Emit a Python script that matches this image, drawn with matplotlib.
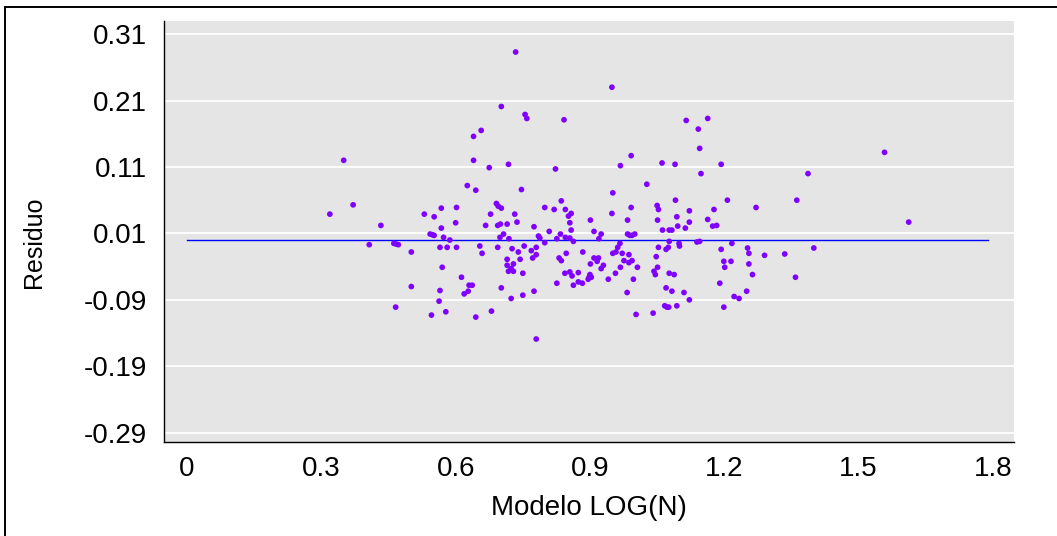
import matplotlib
matplotlib.use("Agg")
import matplotlib.pyplot as plt
from matplotlib.lines import Line2D

# Fitted values (Modelo LOG(N)) and residuals
modelo = [
    0.350, 0.626, 0.371, 0.319, 0.530, 0.552, 0.568, 0.602, 0.600, 0.433,
    0.568, 0.543, 0.548, 0.552, 0.573, 0.587, 0.407, 0.462, 0.467, 0.472,
    0.565, 0.581, 0.602, 0.501, 0.570, 0.613, 0.501, 0.630, 0.565, 0.619,
    0.628, 0.563, 0.466, 0.578, 0.546,
    0.734, 0.702, 0.755, 0.759, 0.842, 0.657, 0.640, 0.640, 0.675, 0.718,
    0.823, 0.645, 0.747, 0.691, 0.695, 0.702, 0.678, 0.732, 0.799, 0.820,
    0.836, 0.845, 0.858, 0.852, 0.737, 0.667, 0.694, 0.700, 0.715, 0.775,
    0.855, 0.858, 0.707, 0.699, 0.719, 0.785, 0.788, 0.809, 0.834, 0.826,
    0.845, 0.855, 0.863, 0.799, 0.654, 0.694, 0.726, 0.753, 0.780, 0.659,
    0.740, 0.769, 0.780, 0.847, 0.715, 0.744, 0.772, 0.831, 0.836, 0.729,
    0.715, 0.724, 0.729, 0.718, 0.750, 0.844, 0.855, 0.860, 0.874, 0.863,
    0.826, 0.637, 0.702, 0.775, 0.750, 0.724, 0.680, 0.645, 0.780,
    0.949, 1.115, 0.992, 0.968, 1.061, 1.090, 1.027, 0.951, 0.992, 1.050,
    1.053, 1.091, 0.949, 0.901, 0.984, 1.051, 1.094, 1.122, 0.909, 0.925,
    0.920, 0.984, 0.989, 0.994, 1.000, 1.062, 1.077, 1.083, 1.096, 1.113,
    1.122, 0.967, 0.962, 1.077, 1.099, 1.100, 0.884, 0.951, 0.958, 0.972,
    0.987, 1.053, 1.075, 1.070, 0.909, 0.919, 0.916, 0.976, 0.994, 0.987,
    1.048, 0.901, 0.930, 0.925, 0.968, 1.006, 1.051, 1.043, 1.046, 0.957,
    1.077, 1.088, 0.900, 0.898, 0.903, 0.896, 0.941, 0.997, 0.874, 0.883,
    1.070, 1.083, 0.983, 1.110, 1.122, 1.067, 1.072, 1.076, 1.094, 1.003,
    1.041,
    1.163, 1.142, 1.145, 1.193, 1.148, 1.207, 1.271, 1.362, 1.177, 1.163,
    1.174, 1.183, 1.139, 1.145, 1.217, 1.193, 1.252, 1.255, 1.290, 1.335,
    1.199, 1.215, 1.201, 1.255, 1.263, 1.359, 1.190, 1.250, 1.222, 1.233,
    1.199,
    1.558, 1.387, 1.612, 1.400,
]
residuo = [
    0.120, 0.082, 0.053, 0.039, 0.039, 0.035, 0.048, 0.049, 0.026, 0.022,
    0.018, 0.009, 0.008, 0.007, 0.004, 0.000, -0.007, -0.005, -0.006, -0.007,
    -0.011, -0.011, -0.011, -0.018, -0.041, -0.056, -0.070, -0.068, -0.076, -0.081,
    -0.077, -0.092, -0.101, -0.108, -0.113,
    0.283, 0.201, 0.189, 0.183, 0.181, 0.165, 0.156, 0.120, 0.109, 0.114,
    0.107, 0.075, 0.076, 0.055, 0.051, 0.048, 0.039, 0.039, 0.049, 0.046,
    0.059, 0.046, 0.040, 0.036, 0.027, 0.022, 0.022, 0.024, 0.024, 0.020,
    0.026, 0.015, 0.009, 0.004, 0.002, 0.006, 0.003, 0.013, 0.009, 0.002,
    0.004, 0.003, -0.002, -0.004, -0.009, -0.011, -0.013, -0.009, -0.011, -0.020,
    -0.018, -0.016, -0.022, -0.020, -0.029, -0.029, -0.027, -0.027, -0.031, -0.036,
    -0.038, -0.043, -0.047, -0.047, -0.050, -0.050, -0.048, -0.054, -0.049, -0.068,
    -0.065, -0.068, -0.072, -0.077, -0.083, -0.088, -0.107, -0.116, -0.149,
    0.230, 0.180, 0.127, 0.112, 0.116, 0.114, 0.084, 0.071, 0.049, 0.052,
    0.046, 0.060, 0.040, 0.030, 0.030, 0.030, 0.035, 0.044, 0.013, 0.009,
    0.002, 0.009, 0.007, 0.007, 0.009, 0.015, 0.015, 0.015, 0.021, 0.018,
    0.027, -0.005, -0.011, -0.002, -0.005, -0.009, -0.018, -0.020, -0.018, -0.020,
    -0.022, -0.011, -0.011, -0.014, -0.027, -0.027, -0.032, -0.031, -0.031, -0.034,
    -0.025, -0.036, -0.038, -0.043, -0.041, -0.041, -0.041, -0.047, -0.052, -0.050,
    -0.050, -0.052, -0.052, -0.056, -0.056, -0.059, -0.059, -0.059, -0.063, -0.065,
    -0.072, -0.077, -0.079, -0.079, -0.090, -0.099, -0.101, -0.101, -0.099, -0.112,
    -0.110,
    0.183, 0.167, 0.138, 0.114, 0.100, 0.060, 0.049, 0.060, 0.046, 0.031,
    0.021, 0.022, -0.003, -0.002, -0.005, -0.014, -0.012, -0.020, -0.023, -0.021,
    -0.032, -0.032, -0.041, -0.036, -0.052, -0.056, -0.065, -0.077, -0.085, -0.088,
    -0.101,
    0.132, 0.100, 0.027, -0.012,
]

# Zero reference line
ref_x = [0.0, 1.79]
ref_y = [0.0, 0.0]

xticks = [0, 0.3, 0.6, 0.9, 1.2, 1.5, 1.8]
xtick_labels = ["0", "0.3", "0.6", "0.9", "1.2", "1.5", "1.8"]
yticks = [0.31, 0.21, 0.11, 0.01, -0.09, -0.19, -0.29]
ytick_labels = ["0.31", "0.21", "0.11", "0.01", "-0.09", "-0.19", "-0.29"]

plt.rcParams["font.family"] = ["Liberation Sans", "DejaVu Sans"]

fig = plt.figure(figsize=(10.57, 5.36), dpi=100)
ax = fig.add_axes([164 / 1057, 1 - 442 / 536, (1013.5 - 164) / 1057, (442 - 21) / 536])
ax.set_facecolor("#e5e5e5")

ax.set_xlim(-0.0514, 1.846)
ax.set_ylim(-0.304, 0.3297)

for yv in yticks:
    ax.axhline(yv, color="white", lw=1.3, zorder=1)

ax.plot(ref_x, ref_y, color="#0000ff", lw=1.0, zorder=2)
ax.scatter(modelo, residuo, s=17, color="#8000ff", edgecolors="none", zorder=3)

ax.set_xticks(xticks)
ax.set_xticklabels(xtick_labels)
ax.set_yticks(yticks)
ax.set_yticklabels(ytick_labels)
ax.tick_params(axis="both", length=0, labelsize=20, colors="black")
ax.tick_params(axis="x", pad=10)
ax.tick_params(axis="y", pad=12)

for side in ("top", "right"):
    ax.spines[side].set_visible(False)
for side in ("left", "bottom"):
    ax.spines[side].set_color("black")
    ax.spines[side].set_linewidth(1.0)

ax.set_xlabel("Modelo LOG(N)", fontsize=20)
ax.set_ylabel("Residuo", fontsize=18)
ax.xaxis.set_label_coords(0.5, -0.125)
ax.yaxis.set_label_coords(-0.139, 0.475)

# Frame lines around the figure panel
fig.add_artist(Line2D([5 / 1057, 1.0], [1 - 6.5 / 536, 1 - 6.5 / 536],
                      transform=fig.transFigure, color="black", lw=1.4))
fig.add_artist(Line2D([5 / 1057, 5 / 1057], [0.0, 1 - 6.5 / 536],
                      transform=fig.transFigure, color="black", lw=1.4))

fig.savefig("out.png", dpi=100)
